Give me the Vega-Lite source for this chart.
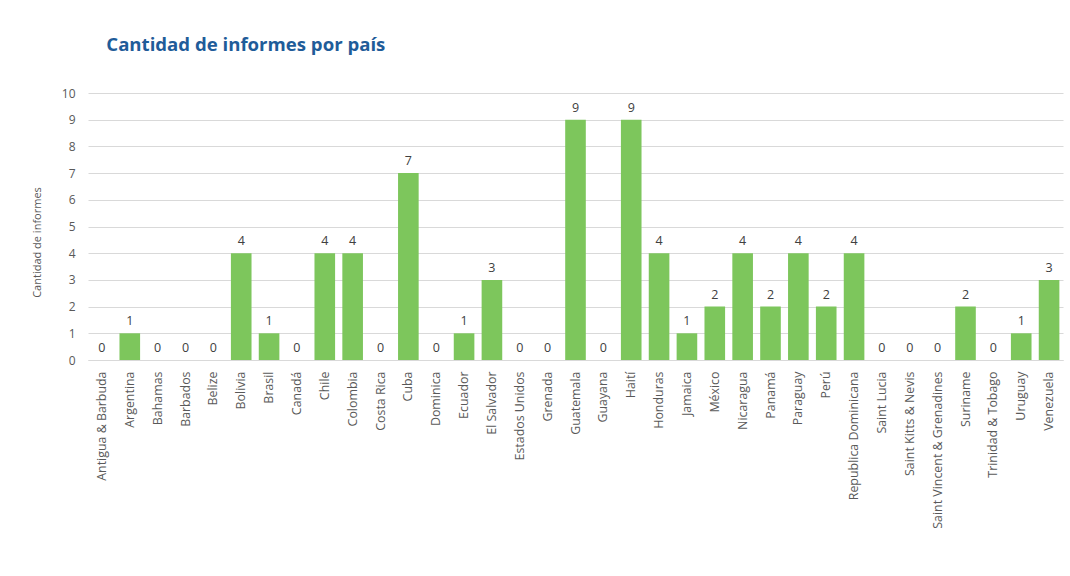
{
  "$schema": "https://vega.github.io/schema/vega-lite/v6.json",
  "width": 975,
  "height": 267,
  "autosize": {"type": "none"},
  "padding": {"left": 88, "top": 93, "right": 7, "bottom": 216},
  "background": "white",
  "title": {
    "text": "Cantidad de informes por país",
    "anchor": "start",
    "dx": 75,
    "offset": 32,
    "font": "Open Sans",
    "fontSize": 18.6,
    "fontWeight": "bold",
    "color": "#1F5C99"
  },
  "data": {
    "values": [
      {"pais": "Antigua & Barbuda", "n": 0},
      {"pais": "Argentina", "n": 1},
      {"pais": "Bahamas", "n": 0},
      {"pais": "Barbados", "n": 0},
      {"pais": "Belize", "n": 0},
      {"pais": "Bolivia", "n": 4},
      {"pais": "Brasil", "n": 1},
      {"pais": "Canadá", "n": 0},
      {"pais": "Chile", "n": 4},
      {"pais": "Colombia", "n": 4},
      {"pais": "Costa Rica", "n": 0},
      {"pais": "Cuba", "n": 7},
      {"pais": "Dominica", "n": 0},
      {"pais": "Ecuador", "n": 1},
      {"pais": "El Salvador", "n": 3},
      {"pais": "Estados Unidos", "n": 0},
      {"pais": "Grenada", "n": 0},
      {"pais": "Guatemala", "n": 9},
      {"pais": "Guayana", "n": 0},
      {"pais": "Haití", "n": 9},
      {"pais": "Honduras", "n": 4},
      {"pais": "Jamaica", "n": 1},
      {"pais": "México", "n": 2},
      {"pais": "Nicaragua", "n": 4},
      {"pais": "Panamá", "n": 2},
      {"pais": "Paraguay", "n": 4},
      {"pais": "Perú", "n": 2},
      {"pais": "Republica Dominicana", "n": 4},
      {"pais": "Saint Lucia", "n": 0},
      {"pais": "Saint Kitts & Nevis", "n": 0},
      {"pais": "Saint Vincent & Grenadines", "n": 0},
      {"pais": "Suriname", "n": 2},
      {"pais": "Trinidad & Tobago", "n": 0},
      {"pais": "Uruguay", "n": 1},
      {"pais": "Venezuela", "n": 3}
    ]
  },
  "encoding": {
    "x": {
      "field": "pais",
      "type": "nominal",
      "sort": null,
      "scale": {"paddingInner": 0.26, "paddingOuter": 0.13},
      "axis": {
        "title": null,
        "labelAngle": -90,
        "labelFont": "Open Sans",
        "labelFontSize": 12.4,
        "labelColor": "#595959",
        "labelPadding": 11,
        "ticks": false,
        "domainColor": "#d9d9d9",
        "labelOverlap": false
      }
    },
    "y": {
      "field": "n",
      "type": "quantitative",
      "scale": {"domain": [0, 10], "nice": false},
      "axis": {
        "title": "Cantidad de informes",
        "titleFont": "Open Sans",
        "titleFontSize": 11,
        "titleFontWeight": "normal",
        "titleColor": "#595959",
        "titlePadding": 19,
        "titleY": 149,
        "values": [0, 1, 2, 3, 4, 5, 6, 7, 8, 9, 10],
        "labelOverlap": false,
        "labelFont": "Open Sans",
        "labelFontSize": 12,
        "labelColor": "#595959",
        "labelPadding": 13,
        "ticks": false,
        "domain": false,
        "gridColor": "#d9d9d9"
      }
    }
  },
  "layer": [
    {"mark": {"type": "bar", "color": "#7DC65C"}},
    {
      "mark": {"type": "text", "baseline": "bottom", "dy": -5, "font": "Open Sans", "fontSize": 12.5, "color": "#404040"},
      "encoding": {"text": {"field": "n", "type": "quantitative"}}
    }
  ],
  "config": {"view": {"stroke": null}}
}
